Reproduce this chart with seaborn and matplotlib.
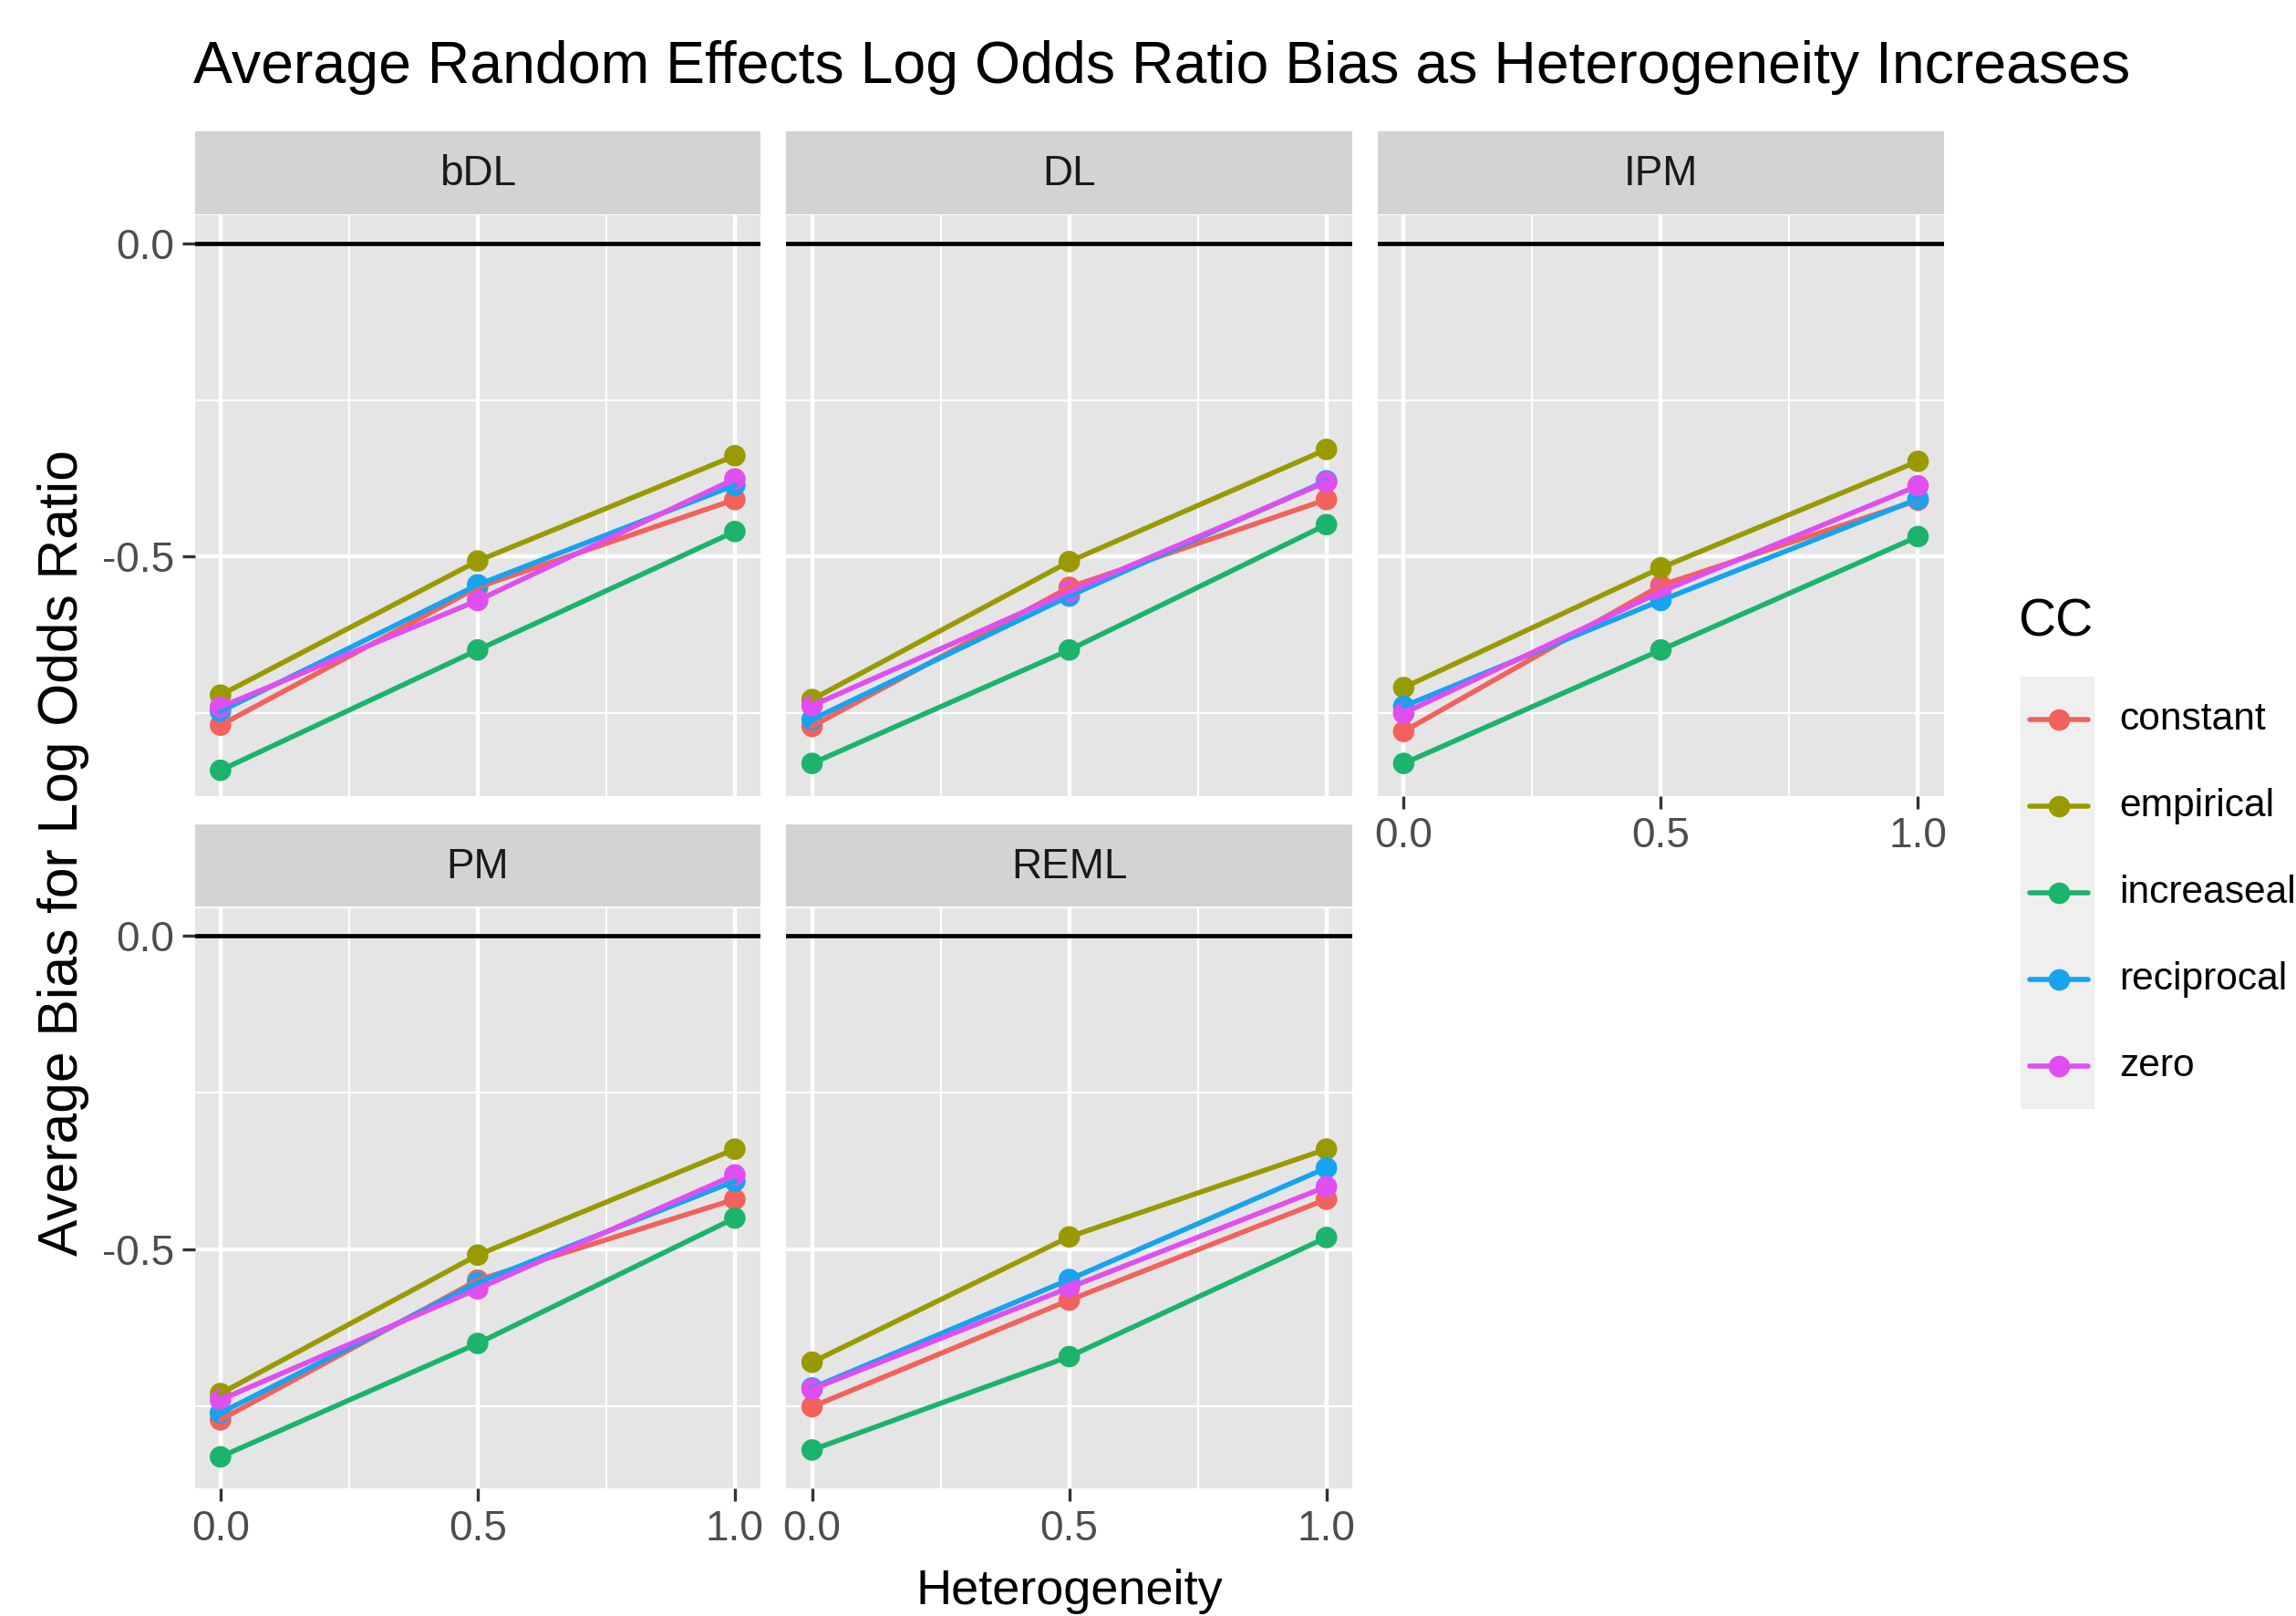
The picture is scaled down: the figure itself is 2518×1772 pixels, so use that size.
import numpy as np
import pandas as pd
import matplotlib
matplotlib.use("Agg")
import matplotlib.pyplot as plt
from matplotlib.lines import Line2D
from matplotlib.patches import Rectangle
import seaborn as sns

# values
methods = ["bDL", "DL", "IPM", "PM", "REML"]
cc_levels = ["constant", "empirical", "increaseal", "reciprocal", "zero"]
heterogeneity = [0.0, 0.5, 1.0]

# one list per continuity correction, method by method (bDL, DL, IPM, PM, REML)
constant = [-0.769, -0.549, -0.409,
            -0.771, -0.549, -0.409,
            -0.779, -0.546, -0.410,
            -0.772, -0.549, -0.420,
            -0.751, -0.581, -0.420]
empirical = [-0.721, -0.507, -0.339,
             -0.728, -0.508, -0.329,
             -0.709, -0.518, -0.348,
             -0.730, -0.509, -0.340,
             -0.680, -0.480, -0.340]
increaseal = [-0.841, -0.649, -0.460,
              -0.830, -0.649, -0.449,
              -0.830, -0.649, -0.468,
              -0.831, -0.650, -0.450,
              -0.820, -0.671, -0.481]
reciprocal = [-0.747, -0.545, -0.386,
              -0.760, -0.563, -0.379,
              -0.739, -0.570, -0.408,
              -0.761, -0.553, -0.391,
              -0.721, -0.548, -0.370]
zero = [-0.740, -0.570, -0.376,
        -0.738, -0.556, -0.381,
        -0.750, -0.556, -0.387,
        -0.740, -0.563, -0.381,
        -0.723, -0.561, -0.400]

series = {"constant": constant, "empirical": empirical, "increaseal": increaseal,
          "reciprocal": reciprocal, "zero": zero}

rows = []
for cc in cc_levels:
    vals = series[cc]
    for i, m in enumerate(methods):
        for j, h in enumerate(heterogeneity):
            rows.append({"method": m, "CC": cc, "het": h, "bias": vals[i * 3 + j]})
df = pd.DataFrame(rows)

pal = {"constant": "#F2625D", "empirical": "#999900", "increaseal": "#1CB36B",
       "reciprocal": "#16A3F0", "zero": "#E04EF0"}

sns.set_style("white")
plt.rcParams["font.family"] = ["Liberation Sans", "DejaVu Sans"]

W, H = 2518, 1772
dpi = 200
fig = plt.figure(figsize=(W / dpi, H / dpi), dpi=dpi)


def fx(px):
    return px / W


def fy(py):
    return 1 - py / H


col_left = [213.6, 862.4, 1511.2]
panel_w = 620.5
row_top = [236.0, 995.7]
panel_h = 636.5
strip_h = 90.0

tick_size = 16.5
panel_bg = "#E5E5E5"
strip_bg = "#D3D3D3"

for k, m in enumerate(methods):
    r, c = divmod(k, 3)
    left = col_left[c]
    top = row_top[r]
    ax = fig.add_axes([fx(left), fy(top + panel_h), panel_w / W, panel_h / H])
    ax.set_facecolor(panel_bg)
    sub = df[df["method"] == m]

    ax.axhline(0, color="black", lw=1.7, zorder=2)
    sns.scatterplot(data=sub, x="het", y="bias", hue="CC", hue_order=cc_levels,
                    palette=pal, s=72, linewidth=0, legend=False, ax=ax, zorder=3)
    sns.lineplot(data=sub, x="het", y="bias", hue="CC", hue_order=cc_levels,
                 palette=pal, linewidth=2.0, legend=False, ax=ax, zorder=4)

    ax.set_xlim(-0.05, 1.05)
    ax.set_ylim(-0.8815, 0.0447)
    ax.set_xticks([0.0, 0.5, 1.0])
    ax.set_xticks([0.25, 0.75], minor=True)
    ax.set_yticks([0.0, -0.5])
    ax.set_yticks([-0.25, -0.75], minor=True)
    ax.grid(which="major", color="white", lw=1.6)
    ax.grid(which="minor", color="white", lw=0.8)
    ax.set_axisbelow(True)
    for s in ax.spines.values():
        s.set_visible(False)
    ax.set_xlabel("")
    ax.set_ylabel("")

    show_x = (r == 1) or (c == 2)
    show_y = (c == 0)
    ax.tick_params(which="major", length=5.2, width=1.2, color="#333333",
                   labelsize=tick_size, labelcolor="#4D4D4D", pad=3)
    ax.tick_params(which="minor", length=0)
    ax.tick_params(axis="x", bottom=show_x, labelbottom=show_x)
    ax.tick_params(axis="y", left=show_y, labelleft=show_y)
    ax.set_xticklabels(["0.0", "0.5", "1.0"])
    ax.set_yticklabels(["0.0", "-0.5"])

    # facet strip
    sax = fig.add_axes([fx(left), fy(top - 1.5), panel_w / W, strip_h / H])
    sax.set_facecolor(strip_bg)
    sax.set_xticks([])
    sax.set_yticks([])
    for s in sax.spines.values():
        s.set_visible(False)
    sax.text(0.5, 0.48, m, ha="center", va="center", fontsize=tick_size,
             color="#1A1A1A", transform=sax.transAxes)

fig.text(fx(212), fy(74), "Average Random Effects Log Odds Ratio Bias as Heterogeneity Increases",
         ha="left", va="center", fontsize=23.2, color="black")
fig.text(fx(1173), fy(1745), "Heterogeneity", ha="center", va="center",
         fontsize=19.5, color="black")
fig.text(fx(70), fy(935), "Average Bias for Log Odds Ratio", ha="center", va="center",
         rotation=90, fontsize=21.8, color="black")

# legend
fig.text(fx(2213), fy(682), "CC", ha="left", va="center", fontsize=20.5, color="black")
key_x0, key_x1 = 2216, 2297
key_top = 742
key_h = 94.8
for i, cc in enumerate(cc_levels):
    y0 = key_top + i * key_h
    fig.patches.append(Rectangle((fx(key_x0), fy(y0 + key_h)), (key_x1 - key_x0) / W, key_h / H,
                                 transform=fig.transFigure, facecolor="#EFEFEF",
                                 edgecolor="none", zorder=1))
    yc = fy(y0 + key_h / 2)
    fig.lines.append(Line2D([fx(2226), fx(2290)], [yc, yc], transform=fig.transFigure,
                            color=pal[cc], lw=2.0, zorder=2))
    fig.lines.append(Line2D([fx(2258)], [yc], transform=fig.transFigure, marker="o",
                            markersize=8.5, markeredgewidth=0, color=pal[cc], zorder=3))
    fig.text(fx(2324), yc, cc, ha="left", va="center", fontsize=15.3, color="black")

fig.savefig("out.png", dpi=dpi)
